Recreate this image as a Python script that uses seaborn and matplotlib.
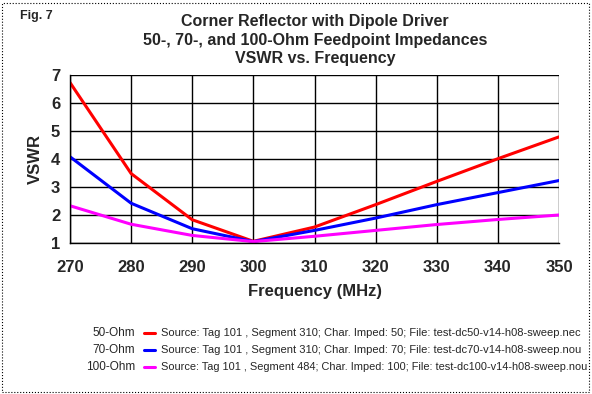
import matplotlib
matplotlib.use("Agg")
import matplotlib.pyplot as plt
import matplotlib.patches as mpatches
from matplotlib.lines import Line2D
import pandas as pd
import seaborn as sns

# ── Data ──────────────────────────────────────────────────────────────────────
freq = [270, 280, 290, 300, 310, 320, 330, 340, 350]
vswr_50 = [6.73, 3.48, 1.83, 1.06, 1.57, 2.37, 3.20, 4.01, 4.79]
vswr_70 = [4.08, 2.42, 1.51, 1.05, 1.45, 1.89, 2.37, 2.80, 3.23]
vswr_100 = [2.33, 1.67, 1.27, 1.05, 1.24, 1.45, 1.66, 1.84, 2.00]

series = ["50-Ohm", "70-Ohm", "100-Ohm"]
colors = ["#ff0000", "#0000ff", "#ff00ff"]
sources = [
    "Source: Tag 101 , Segment 310; Char. Imped: 50; File: test-dc50-v14-h08-sweep.nec",
    "Source: Tag 101 , Segment 310; Char. Imped: 70; File: test-dc70-v14-h08-sweep.nou",
    "Source: Tag 101 , Segment 484; Char. Imped: 100; File: test-dc100-v14-h08-sweep.nou",
]

df = pd.DataFrame({
    "freq": freq * 3,
    "vswr": vswr_50 + vswr_70 + vswr_100,
    "series": [s for s in series for _ in freq],
})

# ── Style ─────────────────────────────────────────────────────────────────────
sns.set_style("white")
plt.rcParams["font.family"] = ["Liberation Sans", "DejaVu Sans"]

fig = plt.figure(figsize=(5.92, 3.94), dpi=100, facecolor="white")
ax = fig.add_axes([70 / 592, 1 - 243 / 394, 489 / 592, 168 / 394])

sns.lineplot(data=df, x="freq", y="vswr", hue="series", hue_order=series,
             palette=colors, linewidth=2.2, ax=ax, legend=False)

ax.set_xlim(270, 350)
ax.set_ylim(1, 7)
ax.set_xticks(range(270, 351, 10))
ax.set_yticks(range(1, 8))
ax.grid(True, color="black", linewidth=1.0)
for spine in ax.spines.values():
    spine.set_edgecolor("black")
    spine.set_linewidth(1.0)
ax.spines["top"].set_visible(False)
ax.spines["right"].set_visible(False)
ax.tick_params(direction="out", length=4, width=1, color="black",
               labelsize=12, pad=3)
ax.tick_params(axis="x", pad=8)
for lab in ax.get_xticklabels() + ax.get_yticklabels():
    lab.set_fontweight("bold")
ax.set_xlabel("Frequency (MHz)", fontsize=12, fontweight="bold", labelpad=7)
ax.set_ylabel("VSWR", fontsize=12, fontweight="bold", labelpad=6)

# ── Titles ────────────────────────────────────────────────────────────────────
fig.text(315 / 592, 1 - 14 / 394,
         "Corner Reflector with Dipole Driver\n"
         "50-, 70-, and 100-Ohm Feedpoint Impedances\n"
         "VSWR vs. Frequency",
         ha="center", va="top", fontsize=11.5, fontweight="bold",
         linespacing=1.3)
fig.text(20 / 592, 1 - 10 / 394, "Fig. 7", ha="left", va="top",
         fontsize=9, fontweight="bold")

# ── Legend below ──────────────────────────────────────────────────────────────
rows_y = [333, 350, 367]
renderer = fig.canvas.get_renderer()
for name, col, src, yp in zip(series, colors, sources, rows_y):
    yf = 1 - yp / 394
    fig.text(135 / 592, yf, name, ha="right", va="center", fontsize=8.5)
    fig.add_artist(Line2D([144 / 592, 155 / 592], [yf, yf], color=col,
                          linewidth=2.2, transform=fig.transFigure))
    t = fig.text(161 / 592, yf, src, ha="left", va="center", fontsize=8.5)
    # squeeze to the width the narrow font takes in the original
    w = t.get_window_extent(renderer).width
    target = (425 if yp == 367 else 416)
    t.set_fontsize(8.5 * min(1.0, target / w))

# ── Dotted frame ─────────────────────────────────────────────────────────────
fig.add_artist(mpatches.Rectangle((2 / 592, 2 / 394), 587 / 592, 389 / 394,
                                  transform=fig.transFigure, fill=False,
                                  edgecolor="black", linestyle=":",
                                  linewidth=0.8))

fig.savefig("out.png", dpi=100, facecolor="white")
